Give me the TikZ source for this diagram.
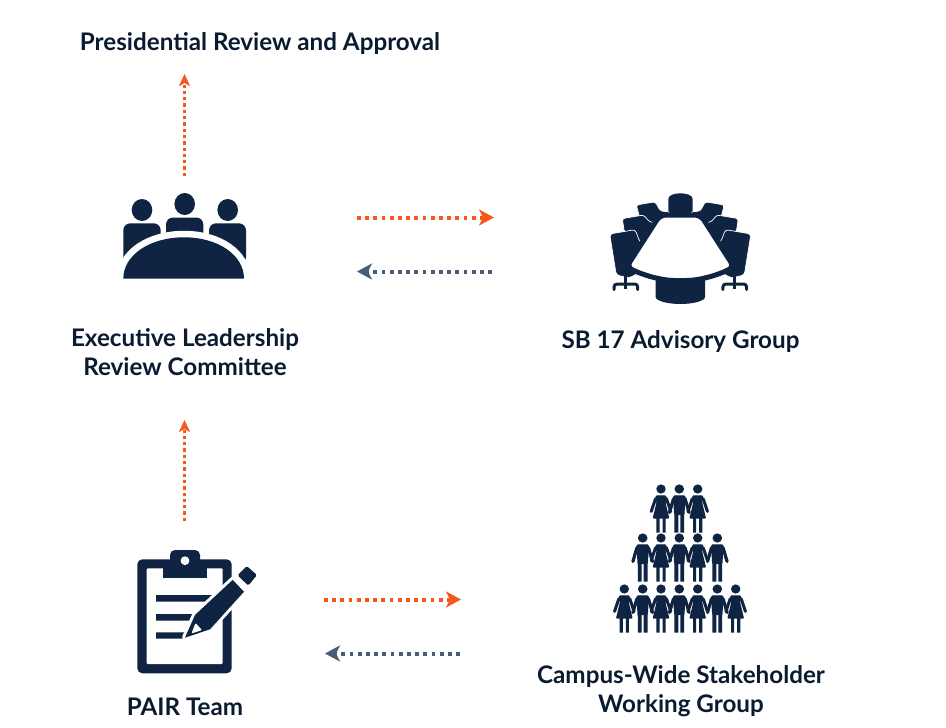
\documentclass[tikz,border=0pt]{standalone}
\usepackage{fontspec}
\setmainfont{Lato}
\usetikzlibrary{arrows.meta,positioning}
\definecolor{navy}{HTML}{0E2442}
\definecolor{ink}{HTML}{0A1A30}
\definecolor{flame}{HTML}{F4581F}
\definecolor{slate}{HTML}{4A5C78}
\tikzset{
  pics/manfig/.style={code={
    \fill[navy] (0,0) circle [x radius=4.8pt,y radius=4.6pt];
    \draw[navy,line width=3.2pt,line cap=round,rounded corners=2pt] (-9.8,23.5)--(-5.4,8.4)--(5.4,8.4)--(9.8,23.5);
    \fill[navy,rounded corners=1.5pt] (-6.4,6.4)--(6.4,6.4)--(5.2,25)--(5.2,26)--(-5.2,26)--(-5.2,25)--cycle;
    \fill[navy] (-4.9,25)rectangle(-1,43.6) (1,25)rectangle(4.9,43.6);
  }},
  pics/womanfig/.style={code={
    \fill[navy] (0,0) circle [x radius=4.7pt,y radius=4.6pt];
    \draw[navy,line width=3pt,line cap=round,rounded corners=2pt] (-9.8,22.5)--(-5,8.4)--(5,8.4)--(9.8,22.5);
    \fill[navy,rounded corners=1pt] (-5.4,6.4)--(5.4,6.4)--(4.6,14)--(8.4,29.5)--(-8.4,29.5)--(-4.6,14)--cycle;
    \fill[navy] (-4.6,29)rectangle(-1.5,43.6) (1.5,29)rectangle(4.6,43.6);
  }},
  pics/chairside/.style={code={
    \filldraw[navy,draw=white,line width=.7pt,rounded corners=2.5pt] (-44,205)--(-25,201.8)--(-20,211)--(-10,212)--(-30,230)--(-40,220)--cycle;
    \filldraw[navy,draw=white,line width=.7pt,rounded corners=2.5pt] (-58,218.6)--(-36.5,215)--(-31.5,221.3)--(-20,225)--(-40,250)--(-50,235)--(-56,232)--cycle;
    \filldraw[navy,draw=white,line width=.7pt,rounded corners=3pt] (-70.6,234)--(-45,229.6)--(-41,241)--(-30,250)--(-40,272)--(-51,278)--(-64,275)--cycle;
    \draw[navy,line width=3pt] (-54.6,270)--(-54.6,289);
    \draw[navy,line width=3pt,line cap=round,rounded corners=3pt] (-66.3,289.6)--(-66.3,284)--(-42.6,284)--(-42.6,289.6);
  }}
}
\begin{document}
\begin{tikzpicture}[x=1pt,y=-1pt,
  title/.style={font=\fontsize{24.2}{29}\selectfont\bfseries,text=ink,align=center,inner sep=0pt},
  solid icon/.style={fill=navy},
  hot/.style={draw=flame,line width=4pt,dash pattern=on 3.8pt off 4.4pt,-{Stealth[length=15pt,width=16pt,inset=4pt]}},
  cold/.style={draw=slate,line width=4pt,dash pattern=on 3.8pt off 4.4pt,-{Stealth[length=15pt,width=16pt,inset=4pt]}},
  hotup/.style={draw=flame,line width=3pt,dash pattern=on 3.3pt off 3pt,-{Stealth[length=12pt,width=11pt,inset=3pt]}}]
\useasboundingbox (0,0) rectangle (946,728);
\node[title] (review) at (260,43.5) {Presidential Review and Approval};
\node[title] (exec) at (185,352.5) {Executive Leadership\\Review Committee};
\node[title] (sb) at (680.5,342) {SB 17 Advisory Group};
\node[title] (pair) at (185,707) {PAIR Team};
\node[title] (campus) at (681,691.5) {Campus-Wide Stakeholder\\Working Group};
% committee icon
\fill[solid icon] (142,210) circle [x radius=10.3pt,y radius=11pt] (184.7,204) circle [x radius=10.3pt,y radius=11pt] (227.7,210) circle [x radius=10.3pt,y radius=11pt];
\fill[solid icon,rounded corners=7pt] (123.3,264)--(123.3,223.3)--(160.7,223.3)--(160.7,264)--cycle;
\fill[solid icon,rounded corners=7pt] (166,264)--(166,217.5)--(203.3,217.5)--(203.3,264)--cycle;
\fill[solid icon,rounded corners=7pt] (209,264)--(209,223.3)--(246,223.3)--(246,264)--cycle;
\filldraw[solid icon,draw=white,line width=13pt] (123.3,278.7) .. controls (123.3,255) and (150,237.3) .. (184,237.3) .. controls (218,237.3) and (244,255) .. (244,278.7) -- cycle;
\fill[white] (110,279) rectangle (260,292);
\fill[solid icon] (123.3,278.7) .. controls (123.3,255) and (150,237.3) .. (184,237.3) .. controls (218,237.3) and (244,255) .. (244,278.7) -- cycle;
% advisory table icon
\fill[solid icon] (668.3,216)--(668.3,199) .. controls (668.3,195) and (675,193.3) .. (680.3,193.3) .. controls (686,193.3) and (692.7,195) .. (692.7,199)--(692.7,216)--cycle;
\fill[solid icon] (655.7,275)--(655.7,297) .. controls (655.7,301) and (668,304) .. (680.3,304) .. controls (693,304) and (705,301) .. (705,297)--(705,275)--cycle;
\pic at (680.3,0) {chairside};
\pic[xscale=-1] at (680.3,0) {chairside};
\filldraw[draw=navy,fill=white,line width=5pt,rounded corners=6pt] (660,215)--(700.6,215)--(734,267) .. controls (716,276) and (698,280.5) .. (680.3,280.5) .. controls (663,280.5) and (645,276) .. (626.6,267) -- cycle;
% clipboard icon
\fill[solid icon,rounded corners=5pt] (137.3,559.3) rectangle (231.7,673.3);
\fill[white,rounded corners=1pt] (146.7,568.3) rectangle (222.7,664);
\fill[solid icon] (163.3,568) rectangle (206.7,578.3);
\fill[solid icon,rounded corners=5pt] (170,550) rectangle (200,570);
\fill[white] (185,560.7) circle [radius=4.4pt];
\fill[solid icon] (156,595) rectangle (215,601.7) (156,614) rectangle (200,620.5) (156,632.3) rectangle (190,638.5);
\draw[white,line width=6pt,line join=round] (185,637.7)--(195,615)--(233.3,579.3)--(244,591.7)--(210,629.3)--cycle;
\fill[solid icon] (185,637.7)--(195,615)--(233.3,579.3)--(244,591.7)--(210,629.3)--cycle;
\draw[white,line width=2pt] (232,577.5)--(245,591);
\fill[solid icon,rounded corners=1.5pt] (237.6,575.4)--(246.7,566)--(257,575)--(248.3,585.6)--cycle;
\fill[white,rounded corners=1pt] (191.5,633.5)--(195.5,623)--(202,630)--cycle;
% stakeholder icon
\foreach \px/\kind in {661/womanfig,697.7/womanfig,679.3/manfig}
  \pic at (\px,489) {\kind};
\foreach \px/\kind in {642.7/manfig,679.3/manfig,717.3/manfig,661/womanfig,697.7/womanfig}
  \pic at (\px,538) {\kind};
\foreach \px/\kind in {642.7/manfig,679.3/manfig,717.3/manfig,624.3/womanfig,661/womanfig,697.7/womanfig,735.7/womanfig}
  \pic at (\px,589) {\kind};
% connectors
\coordinate (upA) at (184.5,176);
\coordinate (upB) at (184.5,74);
\coordinate (upC) at (184.5,521);
\coordinate (upD) at (184.5,420);
\coordinate (goA) at (357,217.5);
\coordinate (goB) at (494,217.5);
\coordinate (backA) at (492,271.5);
\coordinate (backB) at (357,271.5);
\coordinate (goC) at (324,599.5);
\coordinate (goD) at (461,599.5);
\coordinate (backC) at (460,653.5);
\coordinate (backD) at (325,653.5);
\draw[hotup](upA)--(upB);\draw[hotup](upC)--(upD);
\draw[hot](goA)--(goB);\draw[cold](backA)--(backB);
\draw[hot](goC)--(goD);\draw[cold](backC)--(backD);
\end{tikzpicture}
\end{document}
